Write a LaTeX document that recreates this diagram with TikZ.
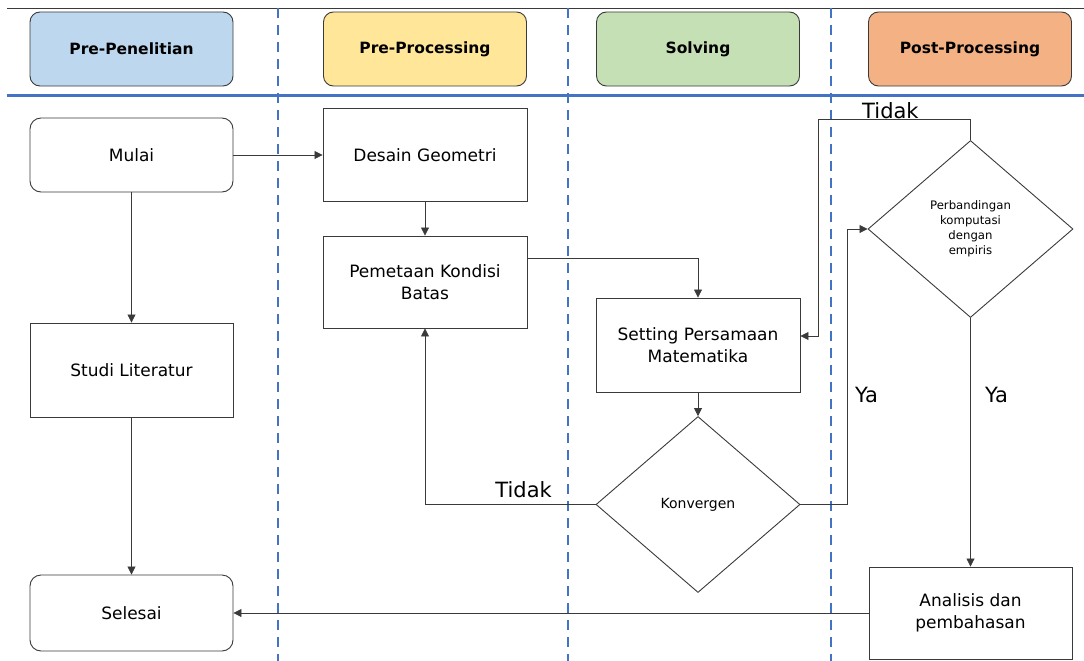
\documentclass[tikz,border=0pt]{standalone}
\usepackage{fontspec}
\setmainfont{DejaVu Sans}
\usetikzlibrary{arrows.meta,shapes.geometric}

\definecolor{lanecol}{HTML}{4472C4}
\definecolor{hdrblue}{HTML}{BDD7EE}
\definecolor{hdryellow}{HTML}{FFE699}
\definecolor{hdrgreen}{HTML}{C5E0B4}
\definecolor{hdrorange}{HTML}{F4B183}
\definecolor{edgecol}{HTML}{3A3A3A}

\tikzset{
  header/.style={draw=edgecol, line width=0.9pt, rounded corners=10pt,
    minimum width=203pt, minimum height=74pt, inner sep=0pt,
    font=\fontsize{15.5}{18}\selectfont\bfseries},
  procbox/.style={draw=edgecol, line width=0.9pt, fill=white,
    minimum width=204pt, inner sep=0pt, align=center,
    font=\fontsize{17}{22.5}\selectfont},
  termbox/.style={procbox, rounded corners=11pt},
  decision/.style={diamond, draw=edgecol, line width=0.9pt, fill=white,
    inner sep=0pt, align=center},
  flow/.style={draw=edgecol, line width=0.8pt,
    -{Triangle[length=8pt,width=8pt]}},
  lanedash/.style={draw=lanecol, line width=2.4pt, dash pattern=on 10pt off 7pt},
  lbl/.style={inner sep=0pt, font=\fontsize{21}{25}\selectfont}
}

\begin{document}
\begin{tikzpicture}[x=1pt,y=-1pt]
\useasboundingbox (0,0) rectangle (1084,661);

% swimlane separators
\draw[edgecol, line width=0.9pt] (7,8) -- (1084,8);
\draw[lanedash] (278,8) -- (278,661);
\draw[lanedash] (568,8) -- (568,661);
\draw[lanedash] (831,8) -- (831,661);
\draw[lanecol, line width=3pt] (7,95) -- (1084,95);

% lane headers
\node[header, fill=hdrblue]   (h1) at (131.5,49) {Pre-Penelitian};
\node[header, fill=hdryellow] (h2) at (425,49)   {Pre-Processing};
\node[header, fill=hdrgreen]  (h3) at (698,49)   {Solving};
\node[header, fill=hdrorange] (h4) at (970,49)   {Post-Processing};

% process steps
\node[termbox, minimum width=203pt, minimum height=74pt] (mulai) at (131.5,155) {Mulai};
\node[procbox, minimum width=203pt, minimum height=94pt] (studi) at (131.5,370) {Studi Literatur};
\node[termbox, minimum width=203pt, minimum height=76pt] (selesai) at (131.5,613) {Selesai};
\node[procbox, minimum height=93pt] (desain) at (425,155) {Desain Geometri};
\node[procbox, minimum height=92pt] (pemetaan) at (425,282) {Pemetaan Kondisi\\Batas};
\node[procbox, minimum height=94pt] (setting) at (698,345) {Setting Persamaan\\Matematika};
\node[decision, minimum width=204pt, minimum height=176pt,
      font=\fontsize{14}{17}\selectfont] (konv) at (698,504.5) {Konvergen};
\node[decision, minimum width=205pt, minimum height=177pt,
      font=\fontsize{11.7}{15}\selectfont] (perb) at (970.5,229)
      {Perbandingan\\komputasi\\dengan\\empiris};
\node[procbox, minimum width=203pt, minimum height=92pt] (analisis) at (970.5,613) {Analisis dan\\pembahasan};

% connectors
\draw[flow] (mulai) -- (desain);
\draw[flow] (mulai) -- (studi);
\draw[flow] (studi) -- (selesai);
\draw[flow] (desain) -- (pemetaan);
\draw[flow] ([yshift=24pt]pemetaan.east) -| (setting.north);
\draw[flow] (setting) -- (konv);
\draw[flow] (konv.west) -| (pemetaan.south);
\coordinate (yaBend) at (847,504.5);
\draw[flow] (konv.east) -- (yaBend) |- (perb.west);
\coordinate (tidakBend) at (818,119);
\draw[flow] (perb.north) |- (tidakBend) |- ([yshift=9pt]setting.east);
\draw[flow] (perb) -- (analisis);
\draw[flow] (analisis) -- (selesai);

% branch labels
\node[lbl, anchor=base east] (tidak1) at (552,497) {Tidak};
\node[lbl, anchor=base west] (tidak2) at (862,118) {Tidak};
\node[lbl, anchor=base west] (ya1) at (855,402) {Ya};
\node[lbl, anchor=base west] (ya2) at (985,402) {Ya};
\end{tikzpicture}
\end{document}
